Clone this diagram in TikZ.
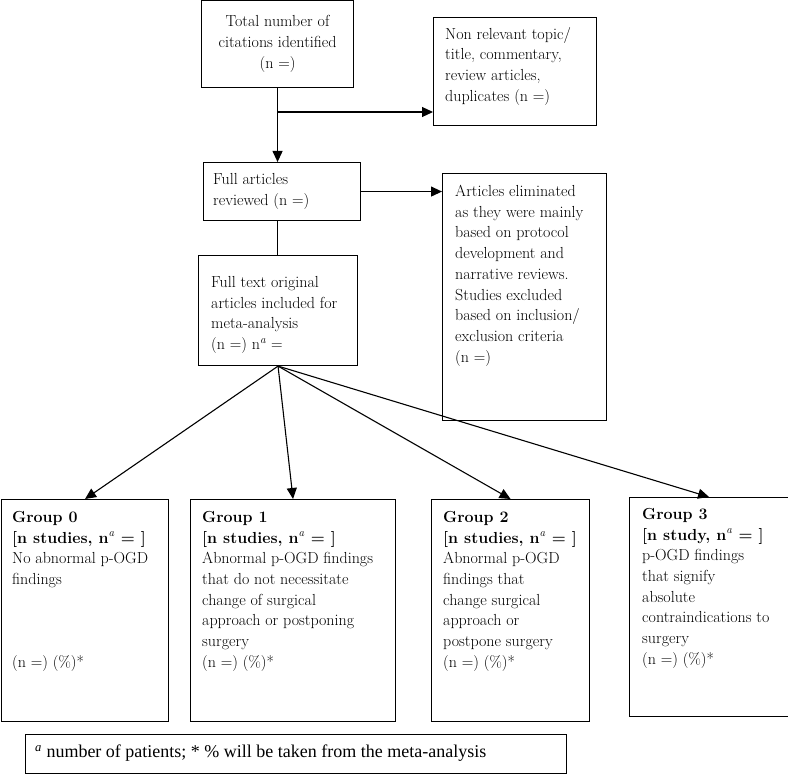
\documentclass[tikz,border=0pt]{standalone}
\usepackage{fontspec}
\usepackage{tikz}
\usetikzlibrary{arrows.meta}
\newfontfamily\notefont{Liberation Serif}
\newcommand{\supa}{\textsuperscript{\normalfont\textit{a}}}

\begin{document}
\begin{tikzpicture}[x=1pt, y=-1pt]
    \tikzstyle{box} = [draw, line width=1.1pt, anchor=north west, inner sep=0pt]
    \tikzstyle{txt} = [anchor=north west, align=left, inner sep=0pt, font=\fontsize{16}{20.7}\selectfont]
    \tikzstyle{arr} = [-{Triangle[length=11pt, width=10pt]}, line width=1.1pt]
    \useasboundingbox (0,0) rectangle (788,775);

    % screening boxes
    \node[box, minimum width=152pt, minimum height=87pt, align=center,
          font=\fontsize{16}{20.7}\selectfont] (total) at (201,0)
        {Total number of\\ citations identified\\ (n =)};
    \node[box, minimum width=163pt, minimum height=108pt] (nonrel) at (433,17) {};
    \node[txt] (nonrelt) at (445,27)
        {Non relevant topic/\\ title, commentary,\\ review articles,\\ duplicates (n =)};
    \node[box, minimum width=157pt, minimum height=58pt] (full) at (203,162) {};
    \node[txt] (fullt) at (213,173) {Full articles\\ reviewed (n =)};
    \node[box, minimum width=164pt, minimum height=247pt] (elim) at (442,173) {};
    \node[txt] (elimt) at (455,185)
        {Articles eliminated\\ as they were mainly\\ based on protocol\\ development and\\
         narrative reviews.\\ Studies excluded\\ based on inclusion/\\ exclusion criteria\\ (n =)};
    \node[box, minimum width=159pt, minimum height=110pt] (incl) at (198,255) {};
    \node[txt] (inclt) at (211,276)
        {Full text original\\ articles included for\\ meta-analysis\\ (n =) n\supa{} =};

    % groups
    \node[box, minimum width=167pt, minimum height=222pt] (g0) at (1,499) {};
    \node[txt] (g0t) at (12,511)
        {\textbf{Group 0}\\ \textbf{[n studies, n\supa{} = ]}\\ No abnormal p-OGD\\ findings\\[62pt] (n =) (\%)*};
    \node[box, minimum width=205pt, minimum height=222pt] (g1) at (190,499) {};
    \node[txt] (g1t) at (202,511)
        {\textbf{Group 1}\\ \textbf{[n studies, n\supa{} = ]}\\ Abnormal p-OGD findings\\ that do not necessitate\\
         change of surgical\\ approach or postponing\\ surgery\\ (n =) (\%)*};
    \node[box, minimum width=158pt, minimum height=222pt] (g2) at (431,499) {};
    \node[txt] (g2t) at (443,511)
        {\textbf{Group 2}\\ \textbf{[n studies, n\supa{} = ]}\\ Abnormal p-OGD\\ findings that\\
         change surgical\\ approach or\\ postpone surgery\\ (n =) (\%)*};
    \node[box, minimum width=159pt, minimum height=219pt] (g3) at (629,497) {};
    \node[txt] (g3t) at (642,508)
        {\textbf{Group 3}\\ \textbf{[n study, n\supa{} = ]}\\ p-OGD findings\\ that signify\\
         absolute\\ contraindications to\\ surgery\\ (n =) (\%)*};

    % footnote
    \node[box, minimum width=541pt, minimum height=39pt] (note) at (25,734) {};
    \node[anchor=west, inner sep=0pt, font=\notefont\fontsize{18}{21}\selectfont] (notet) at (35,753.5)
        {\textsuperscript{\textit{a}} number of patients; * \% will be taken from the meta-analysis};

    % connectors
    \coordinate (split) at (277,112);
    \draw[arr] (total.south) -- (total.south |- full.north);
    \draw[arr] (split) -- (split -| nonrel.west);
    \draw[arr] (full.east) -- (full.east -| elim.west);
    \draw[line width=1.1pt] (total.south |- full.south) -- (total.south |- incl.north);
    \foreach \to in {g0, g1, g2, g3}
        \draw[arr] (incl.south) -- (\to.north);
\end{tikzpicture}
\end{document}
